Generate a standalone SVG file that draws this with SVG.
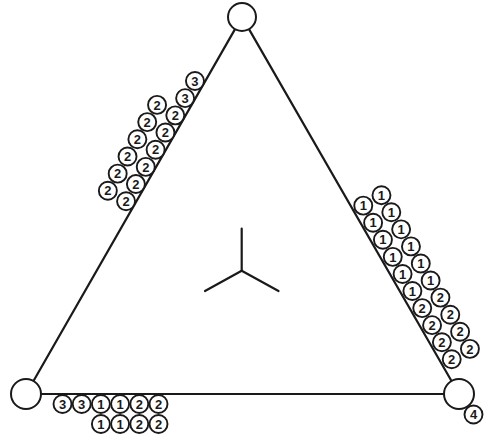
<svg xmlns="http://www.w3.org/2000/svg" width="485" height="439" viewBox="0 0 485 439">
<style>
.edge{stroke:#1a1a1a;stroke-width:2.2;fill:none;stroke-linecap:round}
.big{fill:#fff;stroke:#1a1a1a;stroke-width:2}
.s circle{fill:#fff;stroke:#1a1a1a;stroke-width:1.9}
.s text{font-family:"Liberation Sans",Arial,sans-serif;font-size:13px;font-weight:bold;fill:#1a1a1a;text-anchor:middle}
</style>
<rect width="485" height="439" fill="#fff"/>
<g id="connectors">
<line class="edge" x1="235.04" y1="29.15" x2="33.46" y2="380.98"/>
<line class="edge" x1="248.98" y1="29.13" x2="451.52" y2="381"/>
<line class="edge" x1="41" y1="394" x2="444" y2="394"/>
<line class="edge" x1="241.7" y1="228.7" x2="241.7" y2="270.7"/>
<line class="edge" x1="241.7" y1="270.7" x2="205" y2="291"/>
<line class="edge" x1="241.7" y1="270.7" x2="278.5" y2="291"/>
</g>
<g id="vertex-top"><circle class="big" cx="242" cy="17" r="14"/></g>
<g id="vertex-left"><circle class="big" cx="26" cy="394" r="15"/></g>
<g id="vertex-right"><circle class="big" cx="459" cy="394" r="15"/></g>
<g id="left-side" class="s">
<g id="l-i1"><circle cx="126.07" cy="201.25" r="9"/><text x="126.07" y="205.9">2</text></g>
<g id="l-i2"><circle cx="135.91" cy="184.07" r="9"/><text x="135.91" y="188.7">2</text></g>
<g id="l-i3"><circle cx="145.75" cy="166.89" r="9"/><text x="145.75" y="171.5">2</text></g>
<g id="l-i4"><circle cx="155.6" cy="149.71" r="9"/><text x="155.6" y="154.3">2</text></g>
<g id="l-i5"><circle cx="165.44" cy="132.53" r="9"/><text x="165.44" y="137.2">2</text></g>
<g id="l-i6"><circle cx="175.28" cy="115.35" r="9"/><text x="175.28" y="120">2</text></g>
<g id="l-i7"><circle cx="185.13" cy="98.17" r="9"/><text x="185.13" y="102.8">3</text></g>
<g id="l-i8"><circle cx="194.97" cy="80.99" r="9"/><text x="194.97" y="85.6">3</text></g>
<g id="l-o1"><circle cx="107.85" cy="190.81" r="9"/><text x="107.85" y="195.4">2</text></g>
<g id="l-o2"><circle cx="117.69" cy="173.63" r="9"/><text x="117.69" y="178.3">2</text></g>
<g id="l-o3"><circle cx="127.53" cy="156.45" r="9"/><text x="127.53" y="161.1">2</text></g>
<g id="l-o4"><circle cx="137.38" cy="139.27" r="9"/><text x="137.38" y="143.9">2</text></g>
<g id="l-o5"><circle cx="147.22" cy="122.09" r="9"/><text x="147.22" y="126.7">2</text></g>
<g id="l-o6"><circle cx="157.06" cy="104.91" r="9"/><text x="157.06" y="109.5">2</text></g>
</g>
<g id="right-side" class="s">
<g id="r-i1"><circle cx="363.27" cy="205.65" r="9"/><text x="363.27" y="210.3">1</text></g>
<g id="r-i2"><circle cx="373.1" cy="222.72" r="9"/><text x="373.1" y="227.3">1</text></g>
<g id="r-i3"><circle cx="382.93" cy="239.8" r="9"/><text x="382.93" y="244.4">1</text></g>
<g id="r-i4"><circle cx="392.76" cy="256.87" r="9"/><text x="392.76" y="261.5">1</text></g>
<g id="r-i5"><circle cx="402.58" cy="273.94" r="9"/><text x="402.58" y="278.6">1</text></g>
<g id="r-i6"><circle cx="412.41" cy="291.02" r="9"/><text x="412.41" y="295.7">1</text></g>
<g id="r-i7"><circle cx="422.24" cy="308.09" r="9"/><text x="422.24" y="312.7">2</text></g>
<g id="r-i8"><circle cx="432.07" cy="325.17" r="9"/><text x="432.07" y="329.8">2</text></g>
<g id="r-i9"><circle cx="441.9" cy="342.24" r="9"/><text x="441.9" y="346.9">2</text></g>
<g id="r-i10"><circle cx="451.72" cy="359.31" r="9"/><text x="451.72" y="363.9">2</text></g>
<g id="r-o1"><circle cx="381.47" cy="195.18" r="9"/><text x="381.47" y="199.8">1</text></g>
<g id="r-o2"><circle cx="391.3" cy="212.25" r="9"/><text x="391.3" y="216.9">1</text></g>
<g id="r-o3"><circle cx="401.13" cy="229.33" r="9"/><text x="401.13" y="234">1</text></g>
<g id="r-o4"><circle cx="410.96" cy="246.4" r="9"/><text x="410.96" y="251">1</text></g>
<g id="r-o5"><circle cx="420.78" cy="263.47" r="9"/><text x="420.78" y="268.1">1</text></g>
<g id="r-o6"><circle cx="430.61" cy="280.55" r="9"/><text x="430.61" y="285.2">1</text></g>
<g id="r-o7"><circle cx="440.44" cy="297.62" r="9"/><text x="440.44" y="302.3">2</text></g>
<g id="r-o8"><circle cx="450.27" cy="314.7" r="9"/><text x="450.27" y="319.3">2</text></g>
<g id="r-o9"><circle cx="460.1" cy="331.77" r="9"/><text x="460.1" y="336.4">2</text></g>
<g id="r-o10"><circle cx="469.92" cy="348.84" r="9"/><text x="469.92" y="353.5">2</text></g>
</g>
<g id="bottom-side" class="s">
<g id="b-t1"><circle cx="62.5" cy="404" r="9"/><text x="62.5" y="408.6">3</text></g>
<g id="b-t2"><circle cx="81.7" cy="404" r="9"/><text x="81.7" y="408.6">3</text></g>
<g id="b-t3"><circle cx="100.9" cy="404" r="9"/><text x="100.9" y="408.6">1</text></g>
<g id="b-t4"><circle cx="120.1" cy="404" r="9"/><text x="120.1" y="408.6">1</text></g>
<g id="b-t5"><circle cx="139.3" cy="404" r="9"/><text x="139.3" y="408.6">2</text></g>
<g id="b-t6"><circle cx="158.5" cy="404" r="9"/><text x="158.5" y="408.6">2</text></g>
<g id="b-b3"><circle cx="100.9" cy="424" r="9"/><text x="100.9" y="428.6">1</text></g>
<g id="b-b4"><circle cx="120.1" cy="424" r="9"/><text x="120.1" y="428.6">1</text></g>
<g id="b-b5"><circle cx="139.3" cy="424" r="9"/><text x="139.3" y="428.6">2</text></g>
<g id="b-b6"><circle cx="158.5" cy="424" r="9"/><text x="158.5" y="428.6">2</text></g>
</g>
<g id="corner-4" class="s"><circle cx="473.5" cy="414.5" r="9"/><text x="473.5" y="419.1">4</text></g>
</svg>
